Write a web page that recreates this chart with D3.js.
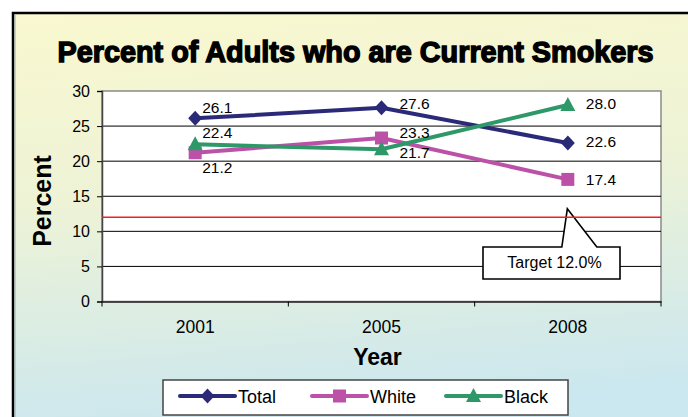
<!DOCTYPE html>
<html>
<head>
<meta charset="utf-8">
<script src="https://cdn.jsdelivr.net/npm/d3@7/dist/d3.min.js"></script>
<style>
  html, body { margin: 0; padding: 0; background: #fff; }
  svg { display: block; font-family: "Liberation Sans", Arial, sans-serif; }
</style>
</head>
<body>
<svg id="chart" width="688" height="417"></svg>
<script>
// ---- data ----
const years = ["2001", "2005", "2008"];
const totalValues = [26.1, 27.6, 22.6];
const whiteValues = [21.2, 23.3, 17.4];
const blackValues = [22.4, 21.7, 28.0];
const seriesNames = ["Total", "White", "Black"];
const yTicks = [0, 5, 10, 15, 20, 25, 30];
const targetValue = 12.0;
const targetLabel = "Target 12.0%";
const titleText = "Percent of Adults who are Current Smokers";

// ---- styling / layout ----
const colors = { Total: "#2a2a78", White: "#bb52a8", Black: "#2f9868" };
const shapes = { Total: "diamond", White: "square", Black: "triangle" };
const labelOffsets = {
  Total: [[7, -11], [18, -4], [18, -2]],
  White: [[7, 15], [18, -6], [18, 0]],
  Black: [[7, -12], [18, 3], [18, -2]]
};
const plot = { left: 102, right: 661, top: 91, bottom: 301.5 };

const series = [
  { name: "Total", values: totalValues },
  { name: "White", values: whiteValues },
  { name: "Black", values: blackValues }
];

const svg = d3.select("#chart");

// background frame with gradient
const defs = svg.append("defs");
const grad = defs.append("linearGradient").attr("id", "bg").attr("x1", 0).attr("y1", 0).attr("x2", 0.15).attr("y2", 1);
grad.append("stop").attr("offset", "0%").attr("stop-color", "#f9f8cf");
grad.append("stop").attr("offset", "45%").attr("stop-color", "#eef3d6");
grad.append("stop").attr("offset", "100%").attr("stop-color", "#cbe7ef");

svg.append("rect").attr("x", 13).attr("y", 13).attr("width", 700).attr("height", 420)
  .attr("fill", "url(#bg)").attr("stroke", "#000").attr("stroke-width", 2.5);
svg.append("line").attr("x1", 15).attr("x2", 15).attr("y1", 15).attr("y2", 417)
  .attr("stroke", "#9aa").attr("stroke-width", 1);

// title
svg.append("text").attr("x", 355.5).attr("y", 62).attr("text-anchor", "middle")
  .attr("font-size", 29).attr("font-weight", "bold").attr("fill", "#000")
  .attr("stroke", "#000").attr("stroke-width", 1.4)
  .attr("textLength", 596).attr("lengthAdjust", "spacingAndGlyphs")
  .text(titleText);

// scales
const x = d3.scaleBand().domain(years).range([plot.left, plot.right]);
const cx = d => x(d) + x.bandwidth() / 2;
const y = d3.scaleLinear().domain([0, 30]).range([plot.bottom, plot.top]);

// plot area
svg.append("rect").attr("x", plot.left).attr("y", plot.top)
  .attr("width", plot.right - plot.left).attr("height", plot.bottom - plot.top)
  .attr("fill", "#fff").attr("stroke", "#8a8a8a").attr("stroke-width", 1.5);

// gridlines
svg.append("g").selectAll("line").data(yTicks.filter(t => t > 0 && t < 30)).join("line")
  .attr("x1", plot.left).attr("x2", plot.right)
  .attr("y1", d => y(d)).attr("y2", d => y(d))
  .attr("stroke", "#000").attr("stroke-width", 1);

// y axis
const yAxis = d3.axisLeft(y).tickValues(yTicks).tickSize(5).tickPadding(7);
const gy = svg.append("g").attr("transform", `translate(${plot.left},0)`).call(yAxis);
gy.select(".domain").attr("stroke", "#444").attr("stroke-width", 1.5);
gy.selectAll(".tick line").attr("stroke", "#000");
gy.selectAll(".tick text").attr("font-size", 16).attr("fill", "#000")
  .attr("font-family", "Liberation Sans, Arial, sans-serif");

// x axis
const xAxis = d3.axisBottom(x).tickSize(0).tickPadding(0);
const gx = svg.append("g").attr("transform", `translate(0,${plot.bottom})`).call(xAxis);
gx.select(".domain").attr("stroke", "#222").attr("stroke-width", 1.5);
gx.selectAll(".tick text").attr("font-size", 17.5).attr("fill", "#000")
  .attr("font-family", "Liberation Sans, Arial, sans-serif")
  .attr("dy", 0).attr("y", 31);
// category boundary ticks
const bounds = years.map(d => x(d)).concat([x(years[years.length - 1]) + x.bandwidth()]);
svg.append("g").selectAll("line").data(bounds).join("line")
  .attr("x1", d => d).attr("x2", d => d)
  .attr("y1", plot.bottom).attr("y2", plot.bottom + 5)
  .attr("stroke", "#000").attr("stroke-width", 1);

// axis titles
svg.append("text").attr("transform", "translate(51,201) rotate(-90)")
  .attr("text-anchor", "middle").attr("font-size", 25).attr("font-weight", "bold")
  .text("Percent");
svg.append("text").attr("x", 377.5).attr("y", 365).attr("text-anchor", "middle")
  .attr("font-size", 23).attr("font-weight", "bold").text("Year");

// target callout
const tx = cx("2008");
const ty = y(targetValue);
const box = { x0: 483, x1: 620, y0: 247, y1: 279 };
svg.append("path")
  .attr("d", `M${box.x0},${box.y0} L${tx - 6},${box.y0} L${tx - 0.5},${ty - 8.5} L${tx + 29},${box.y0} L${box.x1},${box.y0} L${box.x1},${box.y1} L${box.x0},${box.y1} Z`)
  .attr("fill", "#fff").attr("stroke", "#000").attr("stroke-width", 1.6).attr("stroke-linejoin", "miter");
svg.append("text").attr("x", (box.x0 + box.x1) / 2 + 3).attr("y", 268)
  .attr("text-anchor", "middle").attr("font-size", 16).attr("fill", "#000")
  .text(targetLabel);

// target line
svg.append("line").attr("x1", plot.left).attr("x2", plot.right)
  .attr("y1", ty).attr("y2", ty).attr("stroke", "#f02020").attr("stroke-width", 1.6);

// marker paths
function markerPath(shape) {
  if (shape === "diamond") return "M0,-7.5 L7,0 L0,7.5 L-7,0 Z";
  if (shape === "square") return "M-6.5,-6.5 L6.5,-6.5 L6.5,6.5 L-6.5,6.5 Z";
  return "M0,-8 L7.5,6 L-7.5,6 Z";
}

const line = d3.line().x((d, i) => cx(years[i])).y(d => y(d));
series.forEach(s => {
  svg.append("path").datum(s.values).attr("d", line)
    .attr("fill", "none").attr("stroke", colors[s.name]).attr("stroke-width", 4)
    .attr("stroke-linejoin", "round");
});
series.forEach(s => {
  svg.append("g").selectAll("path").data(s.values).join("path")
    .attr("transform", (d, i) => `translate(${cx(years[i])},${y(d)})`)
    .attr("d", markerPath(shapes[s.name])).attr("fill", colors[s.name]);
});
series.forEach(s => {
  svg.append("g").selectAll("text").data(s.values).join("text")
    .attr("x", (d, i) => cx(years[i]) + labelOffsets[s.name][i][0])
    .attr("y", (d, i) => y(d) + labelOffsets[s.name][i][1])
    .attr("dy", "0.36em").attr("font-size", 15.5).attr("fill", "#000")
    .text(d => d.toFixed(1));
});

// legend
const legend = { x0: 163, x1: 568, y0: 380, y1: 415 };
svg.append("rect").attr("x", legend.x0).attr("y", legend.y0)
  .attr("width", legend.x1 - legend.x0).attr("height", legend.y1 - legend.y0)
  .attr("fill", "#fff").attr("stroke", "#444").attr("stroke-width", 1.5);
const legendX = [180, 312, 446];
const ly = 396;
series.forEach((s, i) => {
  const g = svg.append("g").attr("transform", `translate(${legendX[i]},${ly})`);
  g.append("line").attr("x1", 0).attr("x2", 55).attr("y1", 0).attr("y2", 0)
    .attr("stroke", colors[s.name]).attr("stroke-width", 4).attr("stroke-linecap", "round");
  g.append("path").attr("transform", "translate(27.5,0)").attr("d", markerPath(shapes[s.name]))
    .attr("fill", colors[s.name]);
  g.append("text").attr("x", 58).attr("y", 7).attr("font-size", 18).attr("fill", "#000")
    .text(s.name);
});
</script>
</body>
</html>
